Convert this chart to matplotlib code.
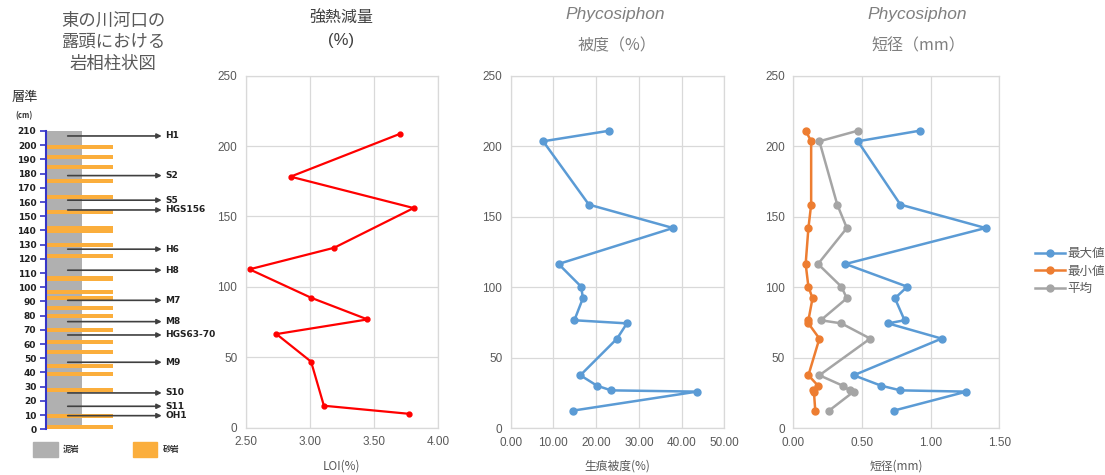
import matplotlib
matplotlib.use("Agg")
import matplotlib.pyplot as plt
from matplotlib.patches import Rectangle

plt.rcParams['font.family'] = ['Noto Sans CJK JP', 'DejaVu Sans']

# ---------------- data ----------------
# lithologic column
column_top = 210
sand_depths = [199.0, 191.9, 184.5, 174.9, 163.6, 153.1, 140.6, 129.4, 121.9, 106.5,
               96.7, 92.1, 85.6, 80.0, 70.2, 61.4, 54.4, 44.7, 38.8, 27.9, 9.3, 1.8]
sand_thick = [2.8, 2.8, 2.8, 2.8, 2.8, 2.8, 5.0, 2.8, 2.8, 3.5,
              2.8, 2.8, 2.8, 2.8, 2.8, 2.8, 2.8, 2.8, 2.8, 2.8, 2.8, 2.8]
sample_names = ['H1', 'S2', 'S5', 'HGS156', 'H6', 'H8', 'M7', 'M8', 'HGS63-70',
                'M9', 'S10', 'S11', 'OH1']
sample_depths = [206.5, 178.6, 161.3, 154.4, 126.8, 112.0, 90.8, 75.8, 66.4,
                 47.2, 25.6, 16.2, 9.6]

# LOI
loi_depth = [208.6, 178.3, 156.0, 127.8, 112.5, 92.3, 76.9, 66.5, 46.9, 15.6, 9.9]
loi_value = [3.70, 2.85, 3.81, 3.19, 2.53, 3.01, 3.45, 2.74, 3.01, 3.11, 3.77]

# Phycosiphon
phy_depth = [211.0, 203.5, 158.6, 142.0, 116.5, 100.4, 92.2, 76.6, 74.4, 63.6,
             37.6, 30.2, 26.9, 26.0, 12.5]
cover = [23.1, 7.6, 18.3, 38.0, 11.2, 16.5, 16.9, 14.9, 27.2, 24.9,
         16.3, 20.2, 23.5, 43.6, 14.5]
dia_max = [0.92, 0.47, 0.78, 1.40, 0.38, 0.83, 0.74, 0.81, 0.69, 1.08,
           0.44, 0.64, 0.78, 1.26, 0.73]
dia_min = [0.09, 0.13, 0.13, 0.11, 0.09, 0.11, 0.14, 0.11, 0.11, 0.19,
           0.11, 0.18, 0.14, 0.15, 0.16]
dia_avg = [0.47, 0.19, 0.32, 0.39, 0.18, 0.35, 0.39, 0.20, 0.35, 0.56,
           0.19, 0.36, 0.41, 0.44, 0.26]

# ---------------- figure ----------------
W, H = 1105, 475
fig = plt.figure(figsize=(W / 100, H / 100), dpi=100)

def px_axes(x0, x1, ytop, ybot):
    return fig.add_axes([x0 / W, 1 - ybot / H, (x1 - x0) / W, (ybot - ytop) / H])

TXT = '#595959'
LIGHT = '#7f7f7f'
GRID = '#d9d9d9'

# ---- lithologic column ----
scale = 1.4205
y0px = 429.3
ymin, ymax = -3, 214
axc = px_axes(46, 216, y0px - ymax * scale, y0px - ymin * scale)
axc.set_xlim(0, 170)
axc.set_ylim(ymin, ymax)
axc.bar(0, column_top, width=36.3, align='edge', color='#b0b0b0', zorder=1)
axc.barh(sand_depths, 66.7, height=sand_thick, left=0, color='#fbae3c', zorder=2)
for name, d in zip(sample_names, sample_depths):
    axc.annotate('', xy=(115.7, d), xytext=(21.7, d),
                 arrowprops=dict(arrowstyle='-|>', color='#404040', lw=1.2,
                                 mutation_scale=7, shrinkA=0, shrinkB=0), zorder=3)
    axc.text(119.0, d, name, fontsize=6.5, fontweight='bold', va='center',
             ha='left', color='#202020', family=['DejaVu Sans'])
for s in ['top', 'right', 'bottom']:
    axc.spines[s].set_visible(False)
axc.spines['left'].set_color('#3535c8')
axc.spines['left'].set_linewidth(1.5)
axc.spines['left'].set_bounds(0, column_top)
axc.set_xticks([])
axc.set_yticks(range(0, 211, 10))
axc.tick_params(axis='y', colors='#3535c8', length=4, width=1.2, pad=3,
                labelcolor='#202020', labelsize=6.5)
for lab in axc.get_yticklabels():
    lab.set_fontweight('bold')
    lab.set_family('DejaVu Sans')
axc.patch.set_alpha(0)

fig.text(113 / W, 1 - 42 / H, '東の川河口の\n露頭における\n岩相柱状図', ha='center',
         va='center', fontsize=12.5, color=TXT, linespacing=1.25)
fig.text(12 / W, 1 - 98 / H, '層準', ha='left', va='center', fontsize=9.5,
         color='#303030')
fig.text(15 / W, 1 - 116 / H, '(cm)', ha='left', va='center', fontsize=5.5,
         color='#303030', fontweight='bold')

fig.add_artist(Rectangle((33 / W, 1 - 457 / H), 25 / W, 15 / H,
                         transform=fig.transFigure, color='#b0b0b0'))
fig.text(63 / W, 1 - 449.5 / H, '泥岩', fontsize=6, fontweight='bold',
         va='center', color='#303030')
fig.add_artist(Rectangle((133 / W, 1 - 457 / H), 24 / W, 15 / H,
                         transform=fig.transFigure, color='#fbae3c'))
fig.text(163 / W, 1 - 449.5 / H, '砂岩', fontsize=6, fontweight='bold',
         va='center', color='#303030')

# ---- generic styling for data panels ----
def style(ax, xlim, xticks, fmt):
    ax.set_ylim(0, 250)
    ax.set_xlim(*xlim)
    ax.set_yticks(range(0, 251, 50))
    ax.set_xticks(xticks)
    ax.set_xticklabels([fmt.format(v) for v in xticks])
    ax.grid(True, color=GRID, lw=0.9)
    ax.set_axisbelow(True)
    for s in ax.spines.values():
        s.set_color(GRID)
        s.set_linewidth(0.9)
    ax.tick_params(length=0, labelsize=8.5, labelcolor=TXT, pad=6)
    for lab in ax.get_xticklabels() + ax.get_yticklabels():
        lab.set_family('Liberation Sans')

ax2 = px_axes(245.7, 438, 75.7, 427.7)
style(ax2, (2.5, 4.0), [2.5, 3.0, 3.5, 4.0], '{:.2f}')
ax2.plot(loi_value, loi_depth, color='#ff0000', lw=1.6, marker='o', ms=3.5,
         clip_on=False)
ax2.set_xlabel('LOI(%)', fontsize=8.5, color=TXT, labelpad=8)
fig.text(341 / W, 1 - 18 / H, '強熱減量', ha='center', va='center',
         fontsize=11.5, color='#404040')
fig.text(341 / W, 1 - 41 / H, '(%)', ha='center', va='center',
         fontsize=12, color='#404040', family=['Liberation Sans'])

ax3 = px_axes(510.7, 724.3, 75.7, 428.3)
style(ax3, (0, 50), [0, 10, 20, 30, 40, 50], '{:.2f}')
ax3.plot(cover, phy_depth, color='#5b9bd5', lw=1.8, marker='o', ms=5,
         clip_on=False)
ax3.set_xlabel('生痕被度(%)', fontsize=8.5, color=TXT, labelpad=8)
fig.text(615 / W, 1 - 15 / H, 'Phycosiphon', ha='center', va='center',
         fontsize=12.5, color=LIGHT, style='italic', family='Liberation Sans')
fig.text(617 / W, 1 - 46 / H, '被度（%）', ha='center', va='center',
         fontsize=11.5, color=LIGHT)

ax4 = px_axes(793.3, 999.3, 75.7, 428.3)
style(ax4, (0, 1.5), [0, 0.5, 1.0, 1.5], '{:.2f}')
ax4.plot(dia_max, phy_depth, color='#5b9bd5', lw=1.8, marker='o', ms=5,
         clip_on=False, label='最大値')
ax4.plot(dia_min, phy_depth, color='#ed7d31', lw=1.8, marker='o', ms=5,
         clip_on=False, label='最小値')
ax4.plot(dia_avg, phy_depth, color='#a5a5a5', lw=1.8, marker='o', ms=5,
         clip_on=False, label='平均')
ax4.set_xlabel('短径(mm)', fontsize=8.5, color=TXT, labelpad=8)
fig.text(917 / W, 1 - 15 / H, 'Phycosiphon', ha='center', va='center',
         fontsize=12.5, color=LIGHT, style='italic', family='Liberation Sans')
fig.text(918 / W, 1 - 46 / H, '短径（mm）', ha='center', va='center',
         fontsize=11.5, color=LIGHT)

leg = fig.legend(*ax4.get_legend_handles_labels(), loc='center left',
                 bbox_to_anchor=(1030 / W, 1 - 271 / H), frameon=False,
                 fontsize=9, handlelength=2.4, labelspacing=0.35,
                 handletextpad=0.2, borderaxespad=0)
for t in leg.get_texts():
    t.set_color(TXT)

fig.savefig('out.png', dpi=100)
